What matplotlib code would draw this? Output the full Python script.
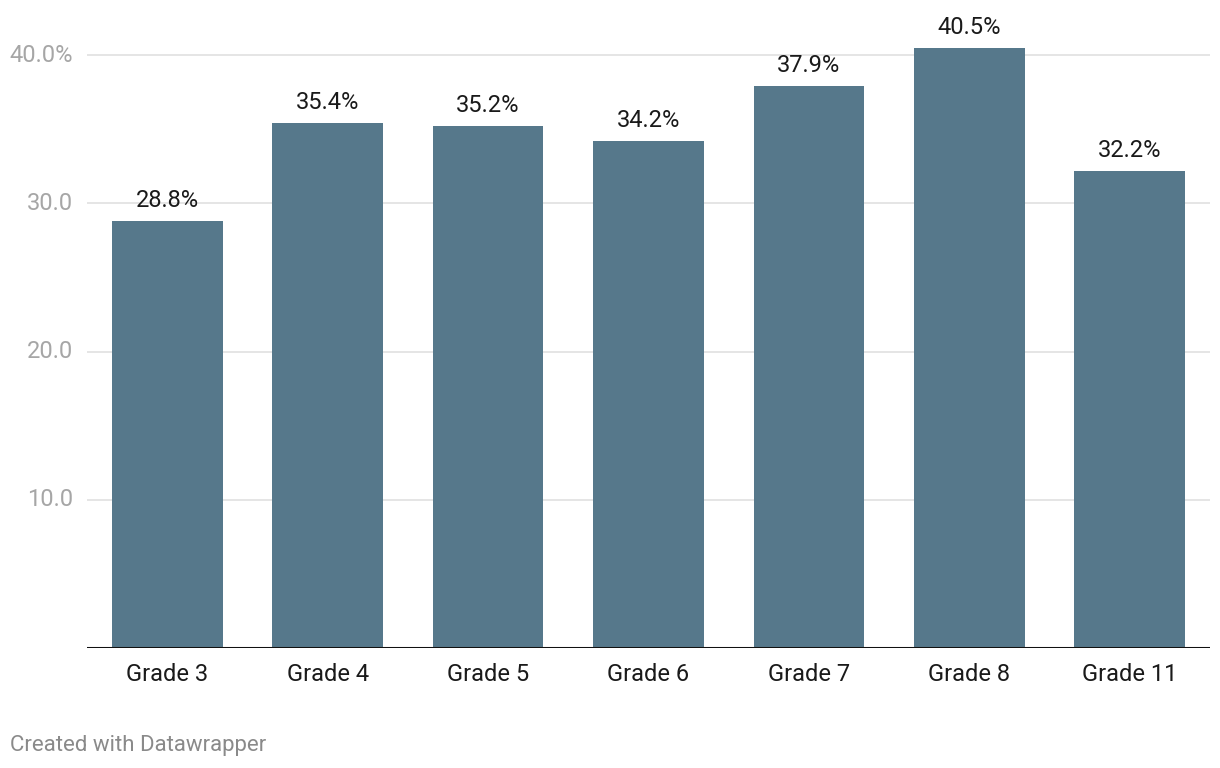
import matplotlib
matplotlib.use("Agg")
import matplotlib.pyplot as plt

plt.rcParams['font.family'] = ['Roboto', 'DejaVu Sans']

grades = ["Grade 3", "Grade 4", "Grade 5", "Grade 6", "Grade 7", "Grade 8", "Grade 11"]
values = [28.8, 35.4, 35.2, 34.2, 37.9, 40.5, 32.2]
yticks = [10, 20, 30, 40]
ytick_labels = ["10.0", "20.0", "30.0", "40.0%"]

W, H = 1220, 768
fig = plt.figure(figsize=(W / 100, H / 100), dpi=100)
# axes box in pixel coordinates
left, right, bottom, top = 87, 1210, 648, 10
ax = fig.add_axes([left / W, 1 - bottom / H, (right - left) / W, (bottom - top) / H])

ymax = (bottom - top) / ((bottom - 55) / 40.0)
ax.set_ylim(0, ymax)
ax.set_xlim(-0.5, len(grades) - 0.5)

for y in yticks:
    ax.axhline(y, color="#e3e3e3", lw=1.3, zorder=0)

x = range(len(grades))
ax.bar(x, values, width=0.69, color="#56788b", zorder=2)

for i, v in enumerate(values):
    ax.text(i, v + 0.6, f"{v:.1f}%", ha="center", va="bottom",
            fontsize=17, color="#1a1a1a")

ax.axhline(0, color="#111111", lw=2.2, zorder=3)

for y, lab in zip(yticks, ytick_labels):
    ax.text(-0.585, y, lab, ha="right", va="center", fontsize=17,
            color="#a6a6a6", transform=ax.transData)

ax.set_xticks(list(x))
ax.set_xticklabels(grades, fontsize=17, color="#1a1a1a")
ax.tick_params(axis="x", length=0, pad=11)
ax.set_yticks([])
for s in ax.spines.values():
    s.set_visible(False)

fig.text(10 / W, 1 - 745 / H, "Created with Datawrapper", ha="left", va="center",
         fontsize=16, color="#8a8a8a")

fig.savefig("out.png", dpi=100)
